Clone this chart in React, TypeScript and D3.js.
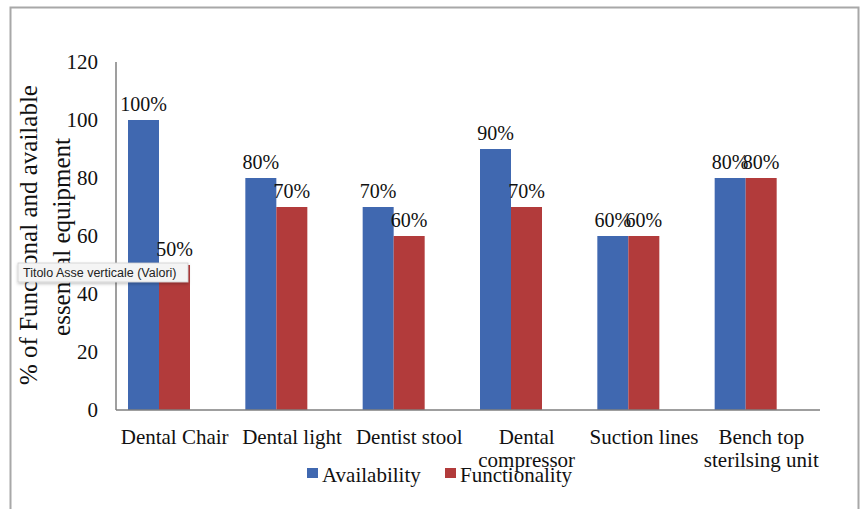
import React from "react";
import * as d3 from "d3";

const categories: string[][] = [
  ["Dental Chair"],
  ["Dental light"],
  ["Dentist stool"],
  ["Dental", "compressor"],
  ["Suction lines"],
  ["Bench top", "sterilsing unit"],
];
const availability = [100, 80, 70, 90, 60, 80];
const functionality = [50, 70, 60, 70, 60, 80];
const seriesNames = ["Availability", "Functionality"];
const colors = ["#4068b0", "#b23b3b"];
const yTicks = [0, 20, 40, 60, 80, 100, 120];

const W = 861;
const H = 509;

export default function App() {
  const x = d3.scaleBand<number>().domain(d3.range(categories.length)).range([116, 820]).padding(0);
  const inner = d3.scaleBand<number>().domain([0, 1]).range([12, 74]).padding(0);
  const y = d3.scaleLinear().domain([0, 120]).range([410, 62]);
  const series = [availability, functionality];
  const serif = "'Liberation Serif', 'Times New Roman', serif";

  return (
    <svg width={W} height={H} style={{ position: "absolute", left: 0, top: 0, background: "#fff" }}>
      <defs>
        <filter id="sh" x="-10%" y="-30%" width="130%" height="180%">
          <feDropShadow dx="0" dy="1.5" stdDeviation="1.5" floodColor="#000" floodOpacity="0.25" />
        </filter>
      </defs>
      {/* frame */}
      <path d={`M10.5,${H} V7.5 H858.5 V${H}`} fill="none" stroke="#a8a8a8" strokeWidth={2} />

      {/* y tick labels */}
      {yTicks.map((t) => (
        <text key={t} x={98} y={y(t) + 7} textAnchor="end" fontFamily={serif} fontSize={21} fill="#111">
          {t}
        </text>
      ))}

      {/* bars */}
      {categories.map((_, i) =>
        series.map((s, k) => {
          const bx = (x(i) as number) + (inner(k) as number);
          const bw = inner.bandwidth();
          return (
            <g key={`${i}-${k}`}>
              <rect x={bx} y={y(s[i])} width={bw} height={y(0) - y(s[i])} fill={colors[k]} />
              <text x={bx + bw / 2} y={y(s[i]) - 9} textAnchor="middle" fontFamily={serif} fontSize={20} fill="#111">
                {s[i]}%
              </text>
            </g>
          );
        })
      )}

      {/* axes */}
      <line x1={116} x2={116} y1={y(120)} y2={y(0)} stroke="#7f7f7f" strokeWidth={1.5} />
      <line x1={116} x2={820} y1={y(0)} y2={y(0)} stroke="#7f7f7f" strokeWidth={1.5} />

      {/* category labels */}
      {categories.map((lines, i) =>
        lines.map((ln, j) => (
          <text
            key={`${i}-${j}`}
            x={(x(i) as number) + x.bandwidth() / 2}
            y={444 + j * 23}
            textAnchor="middle"
            fontFamily={serif}
            fontSize={21}
            fill="#111"
          >
            {ln}
          </text>
        ))
      )}

      {/* legend */}
      {seriesNames.map((n, k) => (
        <g key={n} transform={`translate(${[307, 445][k]},0)`}>
          <rect x={0} y={468} width={11} height={10} fill={colors[k]} />
          <text x={15} y={482} fontFamily={serif} fontSize={21} fill="#111">
            {n}
          </text>
        </g>
      ))}

      {/* y title */}
      <g transform="translate(37,235) rotate(-90)">
        <text x={0} y={0} textAnchor="middle" fontFamily={serif} fontSize={25} fill="#111">
          % of Functional and available
        </text>
      </g>
      <g transform="translate(70,237) rotate(-90)">
        <text x={0} y={0} textAnchor="middle" fontFamily={serif} fontSize={25} fill="#111">
          essential equipment
        </text>
      </g>

      {/* tooltip */}
      <g filter="url(#sh)">
        <rect x={18} y={263} width={170} height={19} fill="#f4f4f4" stroke="#cfcfcf" strokeWidth={0.8} />
      </g>
      <text x={23} y={277} fontFamily="'Liberation Sans', Arial, sans-serif" fontSize={12.5} fill="#222">
        Titolo Asse verticale (Valori)
      </text>
    </svg>
  );
}
